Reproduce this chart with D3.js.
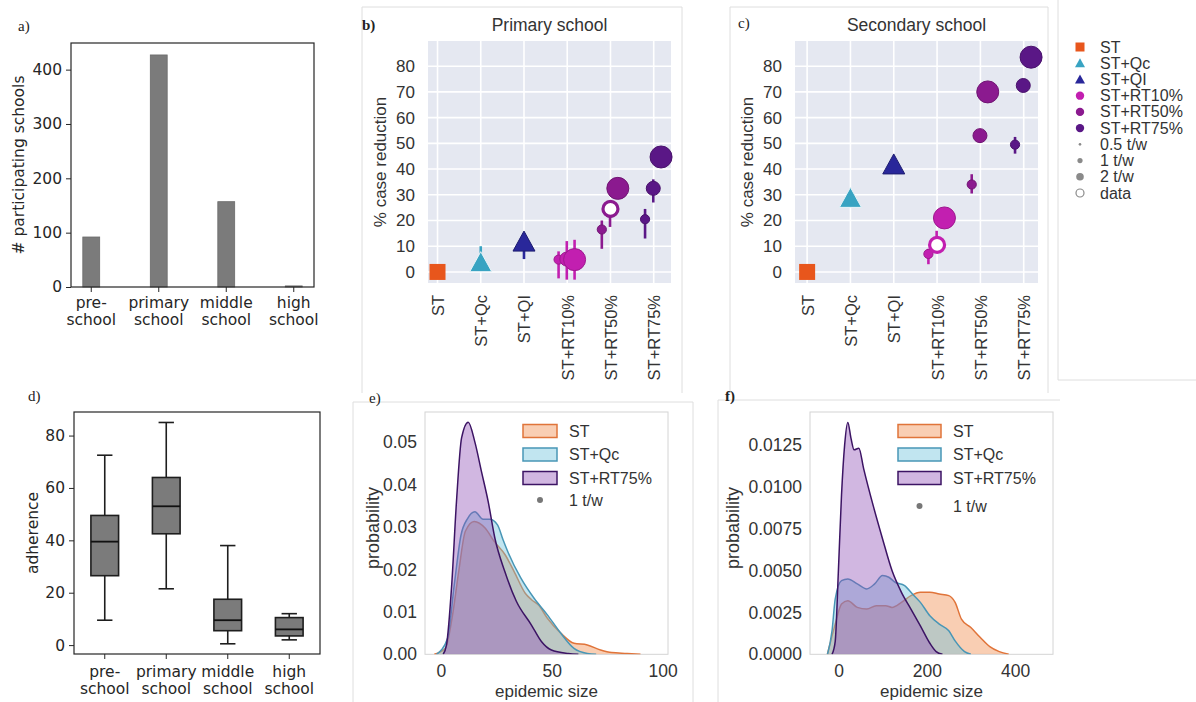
<!DOCTYPE html>
<html><head><meta charset="utf-8">
<script src="https://cdn.jsdelivr.net/npm/d3@7"></script>
<style>body{margin:0;background:#fff}</style>
</head><body>
<svg id="fig" width="1196" height="702"></svg>
<script>
// ---------------- DATA ----------------
// a) participating schools
const schoolLabels = [["pre-","school"],["primary","school"],["middle","school"],["high","school"]];
const participatingSchools = [92, 427, 157, 2];
const schoolTicks = [0, 100, 200, 300, 400];

// d) adherence box plot
const adherenceLow    = [9.5, 21.5, 0.5, 2.0];
const adherenceQ1     = [26.5, 42.5, 5.5, 3.5];
const adherenceMedian = [39.5, 53.0, 9.5, 6.0];
const adherenceQ3     = [49.5, 64.0, 17.5, 10.5];
const adherenceHigh   = [72.5, 85.0, 38.0, 12.0];
const adherenceTicks  = [0, 20, 40, 60, 80];

// b, c) % case reduction
const strategies = ["ST","ST+Qc","ST+QI","ST+RT10%","ST+RT50%","ST+RT75%"];
const strategyColors = ["#e8561c","#38a3c2","#29279a","#c21fb0","#8b1a8f","#5a1786"];
const frequencies = ["0.5 t/w","1 t/w","2 t/w"];
const reductionTicks = [0,10,20,30,40,50,60,70,80];

// ST, ST+Qc, ST+QI
const primarySingle   = [0, 4, 12];
const primarySingleLo = [0, 1, 5];
const primarySingleHi = [0, 10, 15];
// rows: RT10%, RT50%, RT75%; cols: 0.5, 1, 2 t/w
const primaryRT   = [[4.8, 5.0, 4.8], [16.5, 24.0, 32.5], [20.5, 32.5, 44.7]];
const primaryRTLo = [[-2.5, -3.0, -3.0], [9.0, 17.5, 31.0], [13.0, 27.0, 43.0]];
const primaryRTHi = [[8.0, 12.0, 12.5], [20.0, 27.5, 34.0], [24.5, 36.0, 46.5]];
const primaryData = [null, 24.5, null];

const secondarySingle   = [0, 29, 42];
const secondarySingleLo = [0, 28, 41];
const secondarySingleHi = [0, 30, 43];
const secondaryRT   = [[7.0, 10.5, 21.0], [34.0, 53.0, 70.0], [49.5, 72.5, 83.5]];
const secondaryRTLo = [[3.0, 8.0, 19.0], [30.5, 51.0, 68.0], [46.0, 71.0, 82.0]];
const secondaryRTHi = [[9.0, 16.0, 23.0], [38.0, 55.0, 72.0], [52.5, 74.0, 85.0]];
const secondaryData = [10.5, null, null];

// e, f) epidemic size distributions
const kdeSeries = ["ST","ST+Qc","ST+RT75%"];
const kdeStroke = ["#e0743a","#4896b6","#3c1464"];
const kdeFill   = ["#f08a4b","#6cc0dc","#9254b8"];

const primSizeST   = [-3, 2, 5, 8, 11, 15, 20, 24, 29, 33, 38, 41, 44, 48, 54, 60, 66, 72, 77, 84, 90];
const primProbST   = [0, .0014, .0085, .0195, .029, .0313, .0297, .0266, .0234, .0195, .0144, .0128, .0116, .0085, .005, .0026, .0022, .001, .0004, .0002, 0];
const primSizeQc   = [-2, 3, 6, 9, 12, 15.3, 19, 22, 25.5, 28, 30.3, 36, 42, 48, 54, 60, 66, 70];
const primProbQc   = [0, .0038, .0164, .028, .032, .0336, .0318, .0318, .0305, .027, .024, .018, .0132, .0093, .005, .0014, .0002, 0];
const primSizeRT   = [1, 2.5, 4.8, 7, 9.3, 12.3, 15.3, 18.3, 21.3, 24.3, 28.8, 34, 40.8, 45.3, 49.8, 57.4, 62];
const primProbRT   = [0, .0022, .016, .036, .051, .0547, .050, .043, .036, .0274, .0195, .0125, .0069, .003, .001, .0002, 0];

const secSizeST = [-25, -7.5, 6.8, 21, 42.5, 64, 85.4, 106.8, 121.2, 142.6, 164.1, 185.5, 207, 228.4, 249.9, 264.2, 278.5, 299.9, 321.4, 342.8, 364.3, 385.7];
const secProbST = [0, .0018, .003, .0032, .0028, .0027, .0029, .0029, .0028, .0031, .0035, .0037, .0037, .0036, .0035, .0031, .0021, .0016, .001, .00046, .00016, 0];
const secSizeQc = [-25, -14.7, -7.5, 6.8, 21.1, 42.5, 64, 81.9, 99.7, 114, 128.3, 149.7, 167.6, 185.5, 207, 228.4, 249.9, 264.2, 285.6, 300];
const secProbQc = [0, .0014, .0033, .0044, .0045, .0042, .0039, .0042, .0047, .0046, .0043, .0041, .0036, .0031, .0023, .0018, .0014, .0008, .00016, 0];
const secSizeRT = [-14.7, -7.5, -0.4, 6.8, 13.9, 21.1, 28.2, 35.4, 46.1, 56.8, 78.3, 99.7, 121.2, 142.6, 164.1, 185.5, 207, 221.3, 235.6];
const secProbRT = [0, .00076, .0049, .0095, .0125, .01384, .0129, .0122, .0123, .0111, .0089, .0069, .005, .0037, .0027, .0017, .00066, .00016, 0];

const primProbTicks = [0, .01, .02, .03, .04, .05];
const secProbTicks = [0, .0025, .005, .0075, .01, .0125];

// ---------------- DRAWING ----------------
const svg = d3.select("#fig");
const SANS = "'Liberation Sans', Arial, sans-serif";
const DJV = "'DejaVu Sans', sans-serif";
const SERIF = "'Liberation Serif', serif";

// panel frames (light)
const frame = svg.append("g").attr("stroke", "#dedede").attr("fill", "none").attr("stroke-width", 1);
frame.append("path").attr("d", "M362,393V7H682V393");
frame.append("path").attr("d", "M730,393V7H1048V393");
frame.append("path").attr("d", "M1058,0V380H1196");
frame.append("path").attr("d", "M353,702V402H693V702");
frame.append("path").attr("d", "M718,702V400H1060");

function panelLabel(t, x, y, bold) {
  svg.append("text").attr("x", x).attr("y", y).text(t)
    .attr("font-family", SERIF).attr("font-size", 15).attr("fill", "#222")
    .attr("font-weight", bold ? "bold" : "normal");
}
panelLabel("a)", 18, 31);
panelLabel("b)", 362, 30, true);
panelLabel("c)", 738, 28);
panelLabel("d)", 28, 401);
panelLabel("e)", 369, 403);
panelLabel("f)", 725, 401, true);

// ---------- matplotlib-like category axes (a, d) ----------
function mplFrame(g, L, R, T, B) {
  g.append("rect").attr("x", L).attr("y", T).attr("width", R - L).attr("height", B - T)
    .attr("fill", "none").attr("stroke", "#262626").attr("stroke-width", 1.2);
}
function mplCategoryLabels(g, x, B, y1, y2) {
  schoolLabels.forEach((lab, i) => {
    g.append("line").attr("x1", x(i)).attr("x2", x(i)).attr("y1", B).attr("y2", B + 5).attr("stroke", "#262626");
    const t = g.append("text").attr("text-anchor", "middle").attr("font-family", DJV)
      .attr("font-size", 15.5).attr("fill", "#262626");
    t.append("tspan").attr("x", x(i)).attr("y", y1).text(lab[0]);
    t.append("tspan").attr("x", x(i)).attr("y", y2).text(lab[1]);
  });
}
function mplYAxis(g, y, L, ticks) {
  const ax = g.append("g").attr("transform", `translate(${L},0)`)
    .call(d3.axisLeft(y).tickValues(ticks).tickSize(5).tickPadding(4));
  ax.select(".domain").remove();
  ax.selectAll("line").attr("stroke", "#262626");
  ax.selectAll("text").attr("font-family", DJV).attr("font-size", 15.5).attr("fill", "#262626");
}

// a) bars
{
  const g = svg.append("g");
  const L = 71, R = 314, T = 43, B = 287;
  const x = d3.scaleLinear().domain([-0.3, 3.3]).range([L, R]);
  const y = d3.scaleLinear().domain([0, 449]).range([B, T]);
  const bw = x(0.125) - x(-0.125);
  g.selectAll("rect.bar").data(participatingSchools).join("rect").attr("class", "bar")
    .attr("x", (d, i) => x(i) - bw / 2).attr("width", bw)
    .attr("y", d => y(d)).attr("height", d => B - y(d))
    .attr("fill", "#7b7b7b").attr("stroke", "#6a6a6a").attr("stroke-width", 0.8);
  mplFrame(g, L, R, T, B);
  mplYAxis(g, y, L, schoolTicks);
  mplCategoryLabels(g, x, B, 308, 325);
  g.append("text").attr("transform", `translate(24,${(T + B) / 2}) rotate(-90)`)
    .attr("text-anchor", "middle").attr("font-family", DJV).attr("font-size", 15.5)
    .attr("fill", "#262626").text("# participating schools");
}

// d) box plot
{
  const g = svg.append("g");
  const L = 74, R = 320, T = 412, B = 654;
  const x = d3.scaleLinear().domain([-0.5, 3.5]).range([L, R]);
  const y = d3.scaleLinear().domain([-3.4, 89]).range([B, T]);
  const half = (x(0.225) - x(0));
  const cap = (x(0.125) - x(0));
  adherenceMedian.forEach((m, i) => {
    const cx = x(i);
    const st = "#1e1e1e";
    g.append("line").attr("x1", cx).attr("x2", cx).attr("y1", y(adherenceLow[i])).attr("y2", y(adherenceQ1[i])).attr("stroke", st).attr("stroke-width", 1.6);
    g.append("line").attr("x1", cx).attr("x2", cx).attr("y1", y(adherenceQ3[i])).attr("y2", y(adherenceHigh[i])).attr("stroke", st).attr("stroke-width", 1.6);
    g.append("line").attr("x1", cx - cap).attr("x2", cx + cap).attr("y1", y(adherenceLow[i])).attr("y2", y(adherenceLow[i])).attr("stroke", st).attr("stroke-width", 1.6);
    g.append("line").attr("x1", cx - cap).attr("x2", cx + cap).attr("y1", y(adherenceHigh[i])).attr("y2", y(adherenceHigh[i])).attr("stroke", st).attr("stroke-width", 1.6);
    g.append("rect").attr("x", cx - half).attr("width", 2 * half)
      .attr("y", y(adherenceQ3[i])).attr("height", y(adherenceQ1[i]) - y(adherenceQ3[i]))
      .attr("fill", "#7b7b7b").attr("stroke", st).attr("stroke-width", 1.6);
    g.append("line").attr("x1", cx - half).attr("x2", cx + half).attr("y1", y(m)).attr("y2", y(m)).attr("stroke", "#111").attr("stroke-width", 1.8);
  });
  mplFrame(g, L, R, T, B);
  mplYAxis(g, y, L, adherenceTicks);
  mplCategoryLabels(g, x, B, 677, 694);
  g.append("text").attr("transform", `translate(38,${(T + B) / 2}) rotate(-90)`)
    .attr("text-anchor", "middle").attr("font-family", DJV).attr("font-size", 15.5)
    .attr("fill", "#262626").text("adherence");
}

// ---------- b, c) strategy panels ----------
const freqRadius = [4.6, 7, 11];
const freqOffset = [-0.2, -0.01, 0.17];
function trianglePath(cx, cy) {
  return `M${cx},${cy - 10}L${cx + 11},${cy + 10}L${cx - 11},${cy + 10}Z`;
}
function strategyPanel(cfg) {
  const g = svg.append("g");
  const x = d3.scaleLinear().domain(cfg.xDomain).range([cfg.L, cfg.R]);
  const y = d3.scaleLinear().domain([-4.3, 89.8]).range([cfg.B, cfg.T]);
  g.append("rect").attr("x", cfg.L).attr("y", cfg.T).attr("width", cfg.R - cfg.L).attr("height", cfg.B - cfg.T).attr("fill", "#e5e8f1");
  g.selectAll("line.hg").data(reductionTicks).join("line").attr("class", "hg")
    .attr("x1", cfg.L).attr("x2", cfg.R).attr("y1", d => y(d)).attr("y2", d => y(d))
    .attr("stroke", "#fff").attr("stroke-width", 1.6);
  g.selectAll("line.vg").data(strategies).join("line").attr("class", "vg")
    .attr("x1", (d, i) => x(i)).attr("x2", (d, i) => x(i)).attr("y1", cfg.T).attr("y2", cfg.B)
    .attr("stroke", "#fff").attr("stroke-width", 1.6);
  // y ticks
  const ya = g.append("g").attr("transform", `translate(${cfg.L - 6},0)`)
    .call(d3.axisLeft(y).tickValues(reductionTicks).tickSize(0).tickPadding(7));
  ya.select(".domain").remove();
  ya.selectAll("text").attr("font-family", SANS).attr("font-size", 17).attr("fill", "#333");
  // x tick labels (rotated)
  const xa = g.append("g").attr("transform", `translate(0,${cfg.B})`)
    .call(d3.axisBottom(x).tickValues(d3.range(strategies.length)).tickFormat(i => strategies[i]).tickSize(0));
  xa.select(".domain").remove();
  xa.selectAll("text").attr("font-family", SANS).attr("font-size", 16.5).attr("fill", "#333")
    .attr("text-anchor", "end").attr("dy", null).attr("y", 0)
    .attr("transform", "translate(0,12) rotate(-90)").attr("dominant-baseline", "central");
  // title & y label
  g.append("text").attr("x", (cfg.L + cfg.R) / 2).attr("y", 31).attr("text-anchor", "middle")
    .attr("font-family", SANS).attr("font-size", 17.5).attr("fill", "#333").text(cfg.title);
  g.append("text").attr("transform", `translate(${cfg.yLabX},162) rotate(-90)`).attr("text-anchor", "middle")
    .attr("font-family", SANS).attr("font-size", 17).attr("fill", "#333").text("% case reduction");

  const bar = (cx, lo, hi, col) => g.append("line").attr("x1", cx).attr("x2", cx).attr("y1", y(lo)).attr("y2", y(hi))
    .attr("stroke", col).attr("stroke-width", 2.6);
  // ST, Qc, QI
  cfg.single.forEach((v, i) => {
    const col = strategyColors[i];
    if (i > 0) bar(x(i), cfg.singleLo[i], cfg.singleHi[i], col);
    if (i === 0) {
      g.append("rect").attr("x", x(i) - 8).attr("y", y(v) - 8).attr("width", 16).attr("height", 16).attr("fill", col);
    } else {
      g.append("path").attr("d", trianglePath(x(i), y(v))).attr("fill", col)
        .attr("stroke", i === 1 ? "#e9f4f8" : "#1d1c70").attr("stroke-width", 1);
    }
  });
  // RT levels
  cfg.rt.forEach((row, j) => {
    const col = strategyColors[3 + j];
    const edge = d3.color(col).darker(0.6);
    row.forEach((v, k) => {
      const cx = x(3 + j + freqOffset[k]);
      bar(cx, cfg.rtLo[j][k], cfg.rtHi[j][k], col);
      g.append("circle").attr("cx", cx).attr("cy", y(v)).attr("r", freqRadius[k])
        .attr("fill", col).attr("stroke", edge).attr("stroke-width", 1);
    });
  });
  cfg.data.forEach((v, j) => {
    if (v === null) return;
    g.append("circle").attr("cx", x(3 + j)).attr("cy", y(v)).attr("r", 7.5)
      .attr("fill", "#fff").attr("stroke", strategyColors[3 + j]).attr("stroke-width", 3.2);
  });
}
strategyPanel({ L: 428, R: 671, T: 41, B: 283, xDomain: [-0.22, 5.4], title: "Primary school", yLabX: 386,
  single: primarySingle, singleLo: primarySingleLo, singleHi: primarySingleHi,
  rt: primaryRT, rtLo: primaryRTLo, rtHi: primaryRTHi, data: primaryData });
strategyPanel({ L: 795, R: 1038, T: 41, B: 283, xDomain: [-0.28, 5.33], title: "Secondary school", yLabX: 753,
  single: secondarySingle, singleLo: secondarySingleLo, singleHi: secondarySingleHi,
  rt: secondaryRT, rtLo: secondaryRTLo, rtHi: secondaryRTHi, data: secondaryData });

// legend for b/c
{
  const g = svg.append("g");
  const items = strategies.map((s, i) => ({ label: s, kind: i === 0 ? "sq" : i < 3 ? "tri" : "dot", color: strategyColors[i], r: 4.2 }))
    .concat(frequencies.map((f, k) => ({ label: f, kind: "dot", color: "#8a8a8a", r: [1.3, 2.6, 3.8][k] })))
    .concat([{ label: "data", kind: "ring", color: "#8a8a8a", r: 4 }]);
  const ly = d3.scaleLinear().domain([0, items.length - 1]).range([47, 193]);
  items.forEach((it, i) => {
    const cy = ly(i), cx = 1080;
    if (it.kind === "sq") g.append("rect").attr("x", cx - 4.5).attr("y", cy - 4.5).attr("width", 9).attr("height", 9).attr("fill", it.color);
    else if (it.kind === "tri") g.append("path").attr("d", `M${cx},${cy - 5}L${cx + 5},${cy + 4}L${cx - 5},${cy + 4}Z`).attr("fill", it.color);
    else if (it.kind === "dot") g.append("circle").attr("cx", cx).attr("cy", cy).attr("r", it.r).attr("fill", it.color);
    else g.append("circle").attr("cx", cx).attr("cy", cy).attr("r", it.r).attr("fill", "#fff").attr("stroke", it.color).attr("stroke-width", 1.2);
    g.append("text").attr("x", 1100).attr("y", cy).attr("dominant-baseline", "central")
      .attr("font-family", SANS).attr("font-size", 16).attr("fill", "#333").text(it.label);
  });
}

// ---------- e, f) distributions ----------
function kdePanel(cfg) {
  const g = svg.append("g");
  const x = d3.scaleLinear().domain(cfg.xDomain).range([cfg.L, cfg.R]);
  const y = d3.scaleLinear().domain(cfg.yDomain).range([cfg.B, cfg.T]);
  g.append("rect").attr("x", cfg.L).attr("y", cfg.T).attr("width", cfg.R - cfg.L).attr("height", cfg.B - cfg.T)
    .attr("fill", "#fff").attr("stroke", "#d4d4d4");
  g.append("clipPath").attr("id", cfg.id).append("rect")
    .attr("x", cfg.L).attr("y", cfg.T).attr("width", cfg.R - cfg.L).attr("height", cfg.B - cfg.T);
  const area = d3.area().x(d => x(d[0])).y0(y(0)).y1(d => y(d[1])).curve(d3.curveMonotoneX);
  const line = d3.line().x(d => x(d[0])).y(d => y(d[1])).curve(d3.curveMonotoneX);
  cfg.series.forEach((s, i) => {
    const pts = s.x.map((v, k) => [v, s.y[k]]);
    g.append("path").attr("d", area(pts)).attr("fill", kdeFill[i]).attr("fill-opacity", 0.42).attr("clip-path", `url(#${cfg.id})`);
    g.append("path").attr("d", line(pts)).attr("fill", "none").attr("stroke", kdeStroke[i]).attr("stroke-width", 1.5).attr("clip-path", `url(#${cfg.id})`);
  });
  const ya = g.append("g").attr("transform", `translate(${cfg.L},0)`)
    .call(d3.axisLeft(y).tickValues(cfg.yTicks).tickFormat(d3.format(cfg.yFmt)).tickSize(0).tickPadding(8));
  ya.select(".domain").remove();
  ya.selectAll("text").attr("font-family", SANS).attr("font-size", 17.5).attr("fill", "#333");
  const xa = g.append("g").attr("transform", `translate(0,${cfg.B})`)
    .call(d3.axisBottom(x).tickValues(cfg.xTicks).tickSize(0).tickPadding(10));
  xa.select(".domain").remove();
  xa.selectAll("text").attr("font-family", SANS).attr("font-size", 17.5).attr("fill", "#333");
  g.append("text").attr("x", (cfg.L + cfg.R) / 2).attr("y", 697).attr("text-anchor", "middle")
    .attr("font-family", SANS).attr("font-size", 17).attr("fill", "#333").text("epidemic size");
  g.append("text").attr("transform", `translate(${cfg.yLabX},528) rotate(-90)`).attr("text-anchor", "middle")
    .attr("font-family", SANS).attr("font-size", 18).attr("fill", "#333").text("probability");
  // legend
  kdeSeries.forEach((s, i) => {
    const cy = 431 + i * 23.5;
    g.append("rect").attr("x", cfg.legX).attr("y", cy - 6.5).attr("width", cfg.legW).attr("height", 13)
      .attr("fill", kdeFill[i]).attr("fill-opacity", 0.42).attr("stroke", kdeStroke[i]).attr("stroke-width", 1.5);
    g.append("text").attr("x", cfg.legX + cfg.legW + 12).attr("y", cy).attr("dominant-baseline", "central")
      .attr("font-family", SANS).attr("font-size", 16).attr("fill", "#333").text(s);
  });
  g.append("circle").attr("cx", cfg.legX + cfg.legW / 2).attr("cy", cfg.dotY).attr("r", 3).attr("fill", "#777");
  g.append("text").attr("x", cfg.legX + cfg.legW + 12).attr("y", cfg.dotY).attr("dominant-baseline", "central")
    .attr("font-family", SANS).attr("font-size", 16).attr("fill", "#333").text(frequencies[1]);
}
kdePanel({ id: "clipE", L: 425, R: 668, T: 412, B: 654.3, xDomain: [-7.2, 102.4], yDomain: [0, 0.0571],
  xTicks: [0, 50, 100], yTicks: primProbTicks, yFmt: ".2f", yLabX: 379, legX: 523, legW: 34, dotY: 500,
  series: [{ x: primSizeST, y: primProbST }, { x: primSizeQc, y: primProbQc }, { x: primSizeRT, y: primProbRT }] });
kdePanel({ id: "clipF", L: 810, R: 1053, T: 412, B: 654.3, xDomain: [-64.6, 486], yDomain: [0, 0.01446],
  xTicks: [0, 200, 400], yTicks: secProbTicks, yFmt: ".4f", yLabX: 739, legX: 898, legW: 43, dotY: 506,
  series: [{ x: secSizeST, y: secProbST }, { x: secSizeQc, y: secProbQc }, { x: secSizeRT, y: secProbRT }] });
</script>
</body></html>
